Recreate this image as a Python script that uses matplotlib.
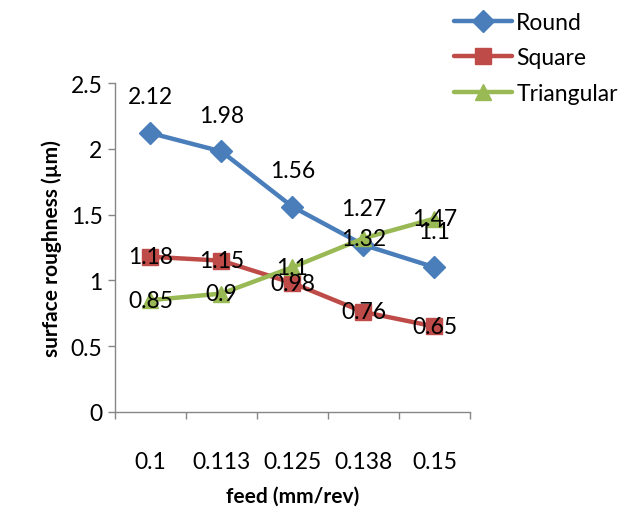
import matplotlib
matplotlib.use("Agg")
import matplotlib.pyplot as plt

categories = ["0.1", "0.113", "0.125", "0.138", "0.15"]
round_vals = [2.12, 1.98, 1.56, 1.27, 1.1]
square_vals = [1.18, 1.15, 0.98, 0.76, 0.65]
tri_vals = [0.85, 0.9, 1.1, 1.32, 1.47]
yticks = [0, 0.5, 1, 1.5, 2, 2.5]
ytick_labels = ["0", "0.5", "1", "1.5", "2", "2.5"]

plt.rcParams['font.family'] = ['Lato', 'DejaVu Sans']

fig = plt.figure(figsize=(6.26, 5.10), dpi=100)
ax = fig.add_axes([0.1837, 0.1902, 0.567, 0.645])

x = list(range(len(categories)))
series = [
    ("Round", round_vals, "#4A7EBB", "D", 11),
    ("Square", square_vals, "#BE4B48", "s", 11),
    ("Triangular", tri_vals, "#98B954", "^", 12),
]
for name, vals, col, mk, ms in series:
    ax.plot(x, vals, color=col, lw=3.2, marker=mk, ms=ms, label=name,
            solid_capstyle='round')

FS = 16.5
for xi, v in zip(x, round_vals):
    ax.annotate(f"{v:g}", (xi, v), xytext=(0, 26), textcoords='offset points',
                ha='center', va='center', fontsize=FS, color='black')
for vals in (square_vals, tri_vals):
    for xi, v in zip(x, vals):
        ax.annotate(f"{v:g}", (xi, v), xytext=(0, 0), textcoords='offset points',
                    ha='center', va='center', fontsize=FS, color='black')

ax.set_xlim(-0.5, len(categories) - 0.5)
ax.set_ylim(0, 2.5)
ax.set_yticks(yticks)
ax.set_yticklabels(ytick_labels, fontsize=FS)
ax.set_xticks(x)
ax.set_xticklabels(categories, fontsize=FS)
ax.set_xticks([i - 0.5 for i in range(len(categories) + 1)], minor=True)
ax.tick_params(axis='x', which='major', length=0, pad=28)
ax.tick_params(axis='x', which='minor', length=5, color='#868686', width=1)
ax.tick_params(axis='y', length=5, color='#868686', width=1, pad=4)

for s in ('top', 'right'):
    ax.spines[s].set_visible(False)
for s in ('left', 'bottom'):
    ax.spines[s].set_color('#868686')
    ax.spines[s].set_linewidth(1)

ax.set_xlabel("feed (mm/rev)", fontsize=15, fontweight='bold', labelpad=10)
ax.set_ylabel("surface roughness (µm)", fontsize=15, fontweight='bold', labelpad=6)

leg = ax.legend(loc='upper left', bbox_to_anchor=(0.93, 1.243), frameon=False,
                fontsize=FS, handlelength=2.5, handletextpad=0.2, labelspacing=0.62,
                borderaxespad=0)

fig.savefig("out.png", dpi=100)
